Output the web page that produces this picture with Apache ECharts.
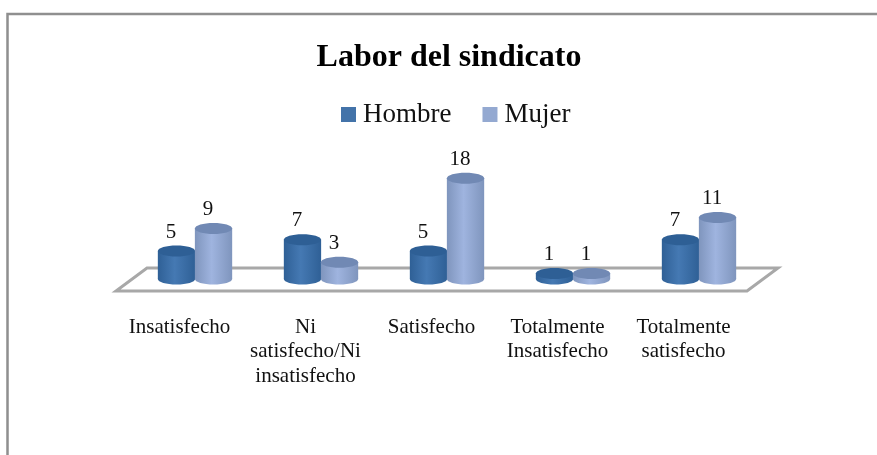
<!DOCTYPE html>
<html>
<head>
<meta charset="utf-8">
<style>
  html, body { margin: 0; padding: 0; background: #fff; }
  #chart { width: 877px; height: 455px; }
</style>
<script src="https://cdn.jsdelivr.net/npm/echarts@6/dist/echarts.min.js"></script>
</head>
<body>
<div id="chart"></div>
<script>
const categories = ['Insatisfecho', 'Ni\nsatisfecho/Ni\ninsatisfecho', 'Satisfecho', 'Totalmente\nInsatisfecho', 'Totalmente\nsatisfecho']
const hombre = [5, 7, 5, 1, 7]
const mujer = [9, 3, 18, 1, 11]

const serif = '"Liberation Serif", serif'
const chart = echarts.init(document.getElementById('chart'))

// dibuja un cilindro por valor
const cylinder = (side, colors) => (params, api) => {
  const base = api.coord([api.value(0), 0])
  const top = api.coord([api.value(0), api.value(1)])
  const band = api.size([1, 0])[0]
  const cx = base[0] + side * band * 0.147
  const rx = band * 0.148
  const ry = 5.5
  const body = new echarts.graphic.LinearGradient(0, 0, 1, 0, [
    { offset: 0, color: colors[0] },
    { offset: 0.45, color: colors[1] },
    { offset: 1, color: colors[0] }
  ])
  return {
    type: 'group',
    children: [
      { type: 'ellipse', shape: { cx, cy: base[1], rx, ry }, style: { fill: body } },
      { type: 'rect', shape: { x: cx - rx, y: top[1], width: rx * 2, height: base[1] - top[1] }, style: { fill: body } },
      { type: 'ellipse', shape: { cx, cy: top[1], rx, ry }, style: { fill: colors[2] } },
      {
        type: 'text',
        style: {
          text: String(api.value(1)),
          x: cx - 5.5,
          y: top[1] - 19,
          align: 'center',
          verticalAlign: 'middle',
          font: '21px ' + serif,
          fill: '#111'
        }
      }
    ]
  }
}

const option = {
  animation: false,
  backgroundColor: '#fff',
  title: {
    text: 'Labor del sindicato',
    left: 444,
    top: 37,
    textAlign: 'center',
    textStyle: { fontFamily: serif, fontWeight: 'bold', fontSize: 32, color: '#000' }
  },
  legend: {
    left: 336,
    top: 96,
    itemWidth: 15,
    itemHeight: 15,
    itemGap: 31,
    icon: 'rect',
    data: ['Hombre', 'Mujer'],
    textStyle: { fontFamily: serif, fontSize: 27, color: '#111', padding: [0, 0, 0, 2] }
  },
  graphic: [
    {
      type: 'polyline',
      z: -1,
      shape: { points: [[7.5, 455], [7.5, 14], [877, 14]] },
      style: { stroke: '#8f8f8f', lineWidth: 2.5, fill: null }
    },
    {
      type: 'polygon',
      z: -1,
      shape: { points: [[116, 291], [747, 291], [778, 268], [147, 268]] },
      style: { stroke: '#a8a8a8', lineWidth: 3, fill: '#fff' }
    }
  ],
  grid: [
    { left: 132, top: 167, width: 630, height: 112 },
    // las etiquetas van corridas respecto a las barras por la perspectiva
    { left: 116.5, top: 167, width: 630, height: 112 }
  ],
  xAxis: [
    { type: 'category', gridIndex: 0, data: categories, axisLine: { show: false }, axisTick: { show: false }, axisLabel: { show: false } },
    {
      type: 'category',
      gridIndex: 1,
      data: categories,
      axisLine: { show: false },
      axisTick: { show: false },
      axisLabel: { interval: 0, margin: 36, fontFamily: serif, fontSize: 21, lineHeight: 24.5, color: '#111' }
    }
  ],
  yAxis: [
    { type: 'value', gridIndex: 0, min: 0, max: 20, show: false },
    { type: 'value', gridIndex: 1, min: 0, max: 20, show: false }
  ],
  series: [
    {
      name: 'Hombre',
      type: 'custom',
      itemStyle: { color: '#4373a9' },
      encode: { x: 0, y: 1 },
      data: categories.map((c, i) => [i, hombre[i]]),
      renderItem: cylinder(-1, ['#2f6096', '#4579b3', '#2e5f95'])
    },
    {
      name: 'Mujer',
      type: 'custom',
      itemStyle: { color: '#94a9d1' },
      encode: { x: 0, y: 1 },
      data: categories.map((c, i) => [i, mujer[i]]),
      renderItem: cylinder(1, ['#7f95bd', '#9fb4df', '#7189b4'])
    }
  ]
}

chart.setOption(option)
</script>
</body>
</html>
